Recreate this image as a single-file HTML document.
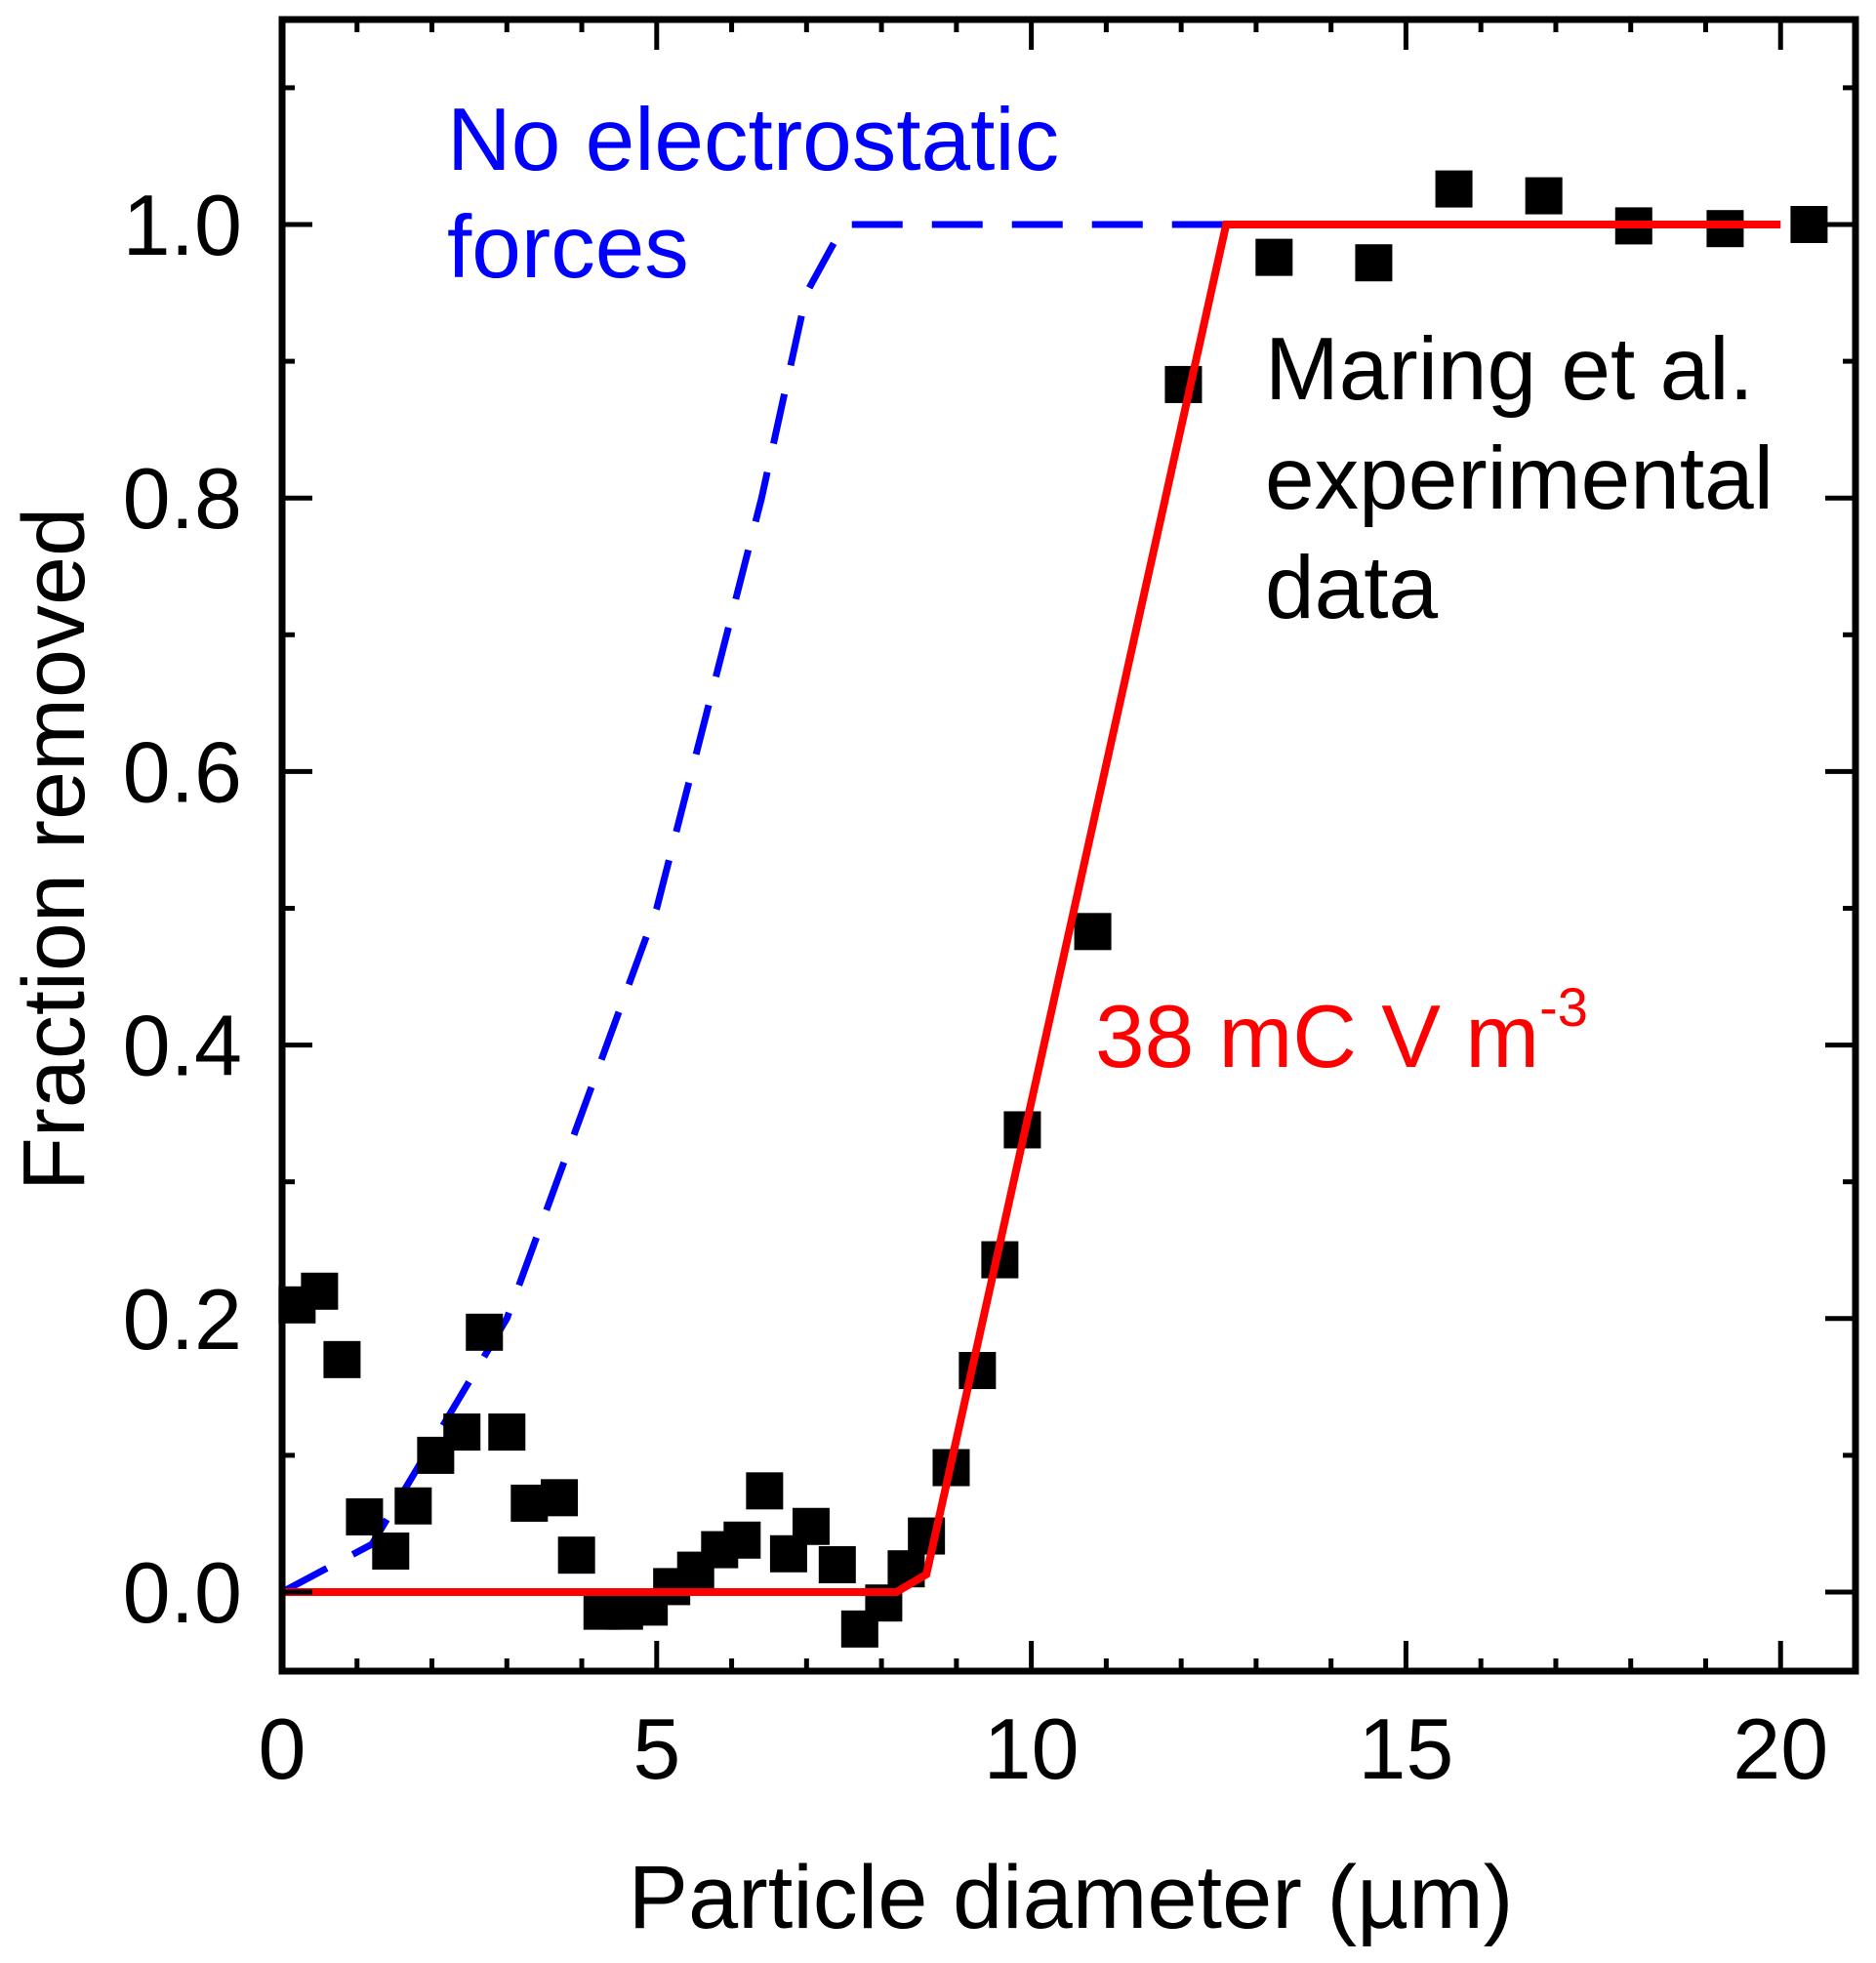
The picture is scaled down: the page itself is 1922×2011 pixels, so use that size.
<!DOCTYPE html>
<html><head><meta charset="utf-8"><style>
html,body{margin:0;padding:0;background:#fff}
svg{display:block;font-family:"Liberation Sans",Arial,sans-serif}
</style></head><body>
<svg id="chart" width="1922" height="2011" viewBox="0 0 1922 2011">
<g id="marks"></g>
<g id="axes"></g>
<text x="458" y="174" font-size="91" fill="#0000ff">No electrostatic</text>
<text x="458" y="284" font-size="91" fill="#0000ff">forces</text>
<text x="1296" y="409" font-size="91" fill="#000">Maring et al.</text>
<text x="1296" y="521" font-size="91" fill="#000">experimental</text>
<text x="1296" y="633" font-size="91" fill="#000">data</text>
<text x="1122" y="1093" font-size="91" fill="#ff0000">38 mC V m<tspan font-size="56" dy="-42">-3</tspan></text>
<text x="1097" y="1975" font-size="92" text-anchor="middle" fill="#000">Particle diameter (µm)</text>
<text transform="translate(86,870) rotate(-90)" font-size="90" text-anchor="middle" fill="#000">Fraction removed</text>
</svg>
<script>
const xs=[0.2,0.5,0.8,1.1,1.45,1.75,2.05,2.4,2.7,3.0,3.3,3.7,3.93,4.27,4.57,4.9,5.2,5.52,5.84,6.14,6.44,6.76,7.06,7.41,7.71,8.03,8.33,8.6,8.93,9.28,9.58,9.88,10.82,12.03,13.24,14.57,15.64,16.84,18.04,19.26,20.38];
const ys=[0.21,0.22,0.17,0.055,0.03,0.063,0.10,0.117,0.19,0.117,0.065,0.069,0.027,-0.014,-0.014,-0.011,0.004,0.016,0.031,0.038,0.074,0.028,0.048,0.020,-0.027,-0.008,0.017,0.041,0.091,0.162,0.243,0.338,0.483,0.883,0.976,0.972,1.026,1.021,0.999,0.997,1.0];
const redX=[0,8.2,8.6,12.6,20];
const redY=[0,0,0.013,1.0,1.0];
const blueX=[0,1.2,3.0,5.0,6.4,7.0,7.5,12.6];
const blueY=[0,0.035,0.2,0.5,0.8,0.95,1.0,1.0];
const xTicks=[0,5,10,15,20];
const yTicks=[0,0.2,0.4,0.6,0.8,1.0];
const xTickLabels=["0","5","10","15","20"];
const yTickLabels=["0.0","0.2","0.4","0.6","0.8","1.0"];

const L=289,R=1901,T=20,B=1712;
const xMin=0,xMax=21;
const X=v=>L+(v-xMin)/(xMax-xMin)*(R-L);
const Y=v=>1631-(v)*1401;
const NS="http://www.w3.org/2000/svg";
const marks=document.getElementById('marks'),axes=document.getElementById('axes');
function mk(tag,attrs,parent){const e=document.createElementNS(NS,tag);for(const k in attrs)e.setAttribute(k,attrs[k]);parent.appendChild(e);return e;}

let bp=blueX.map((x,i)=>X(x)+","+Y(blueY[i])).join(" ");
const bl=mk('polyline',{points:bp,fill:"none",stroke:"#0000ff","stroke-width":7,"stroke-dasharray":"52 30"},marks);



xs.forEach((x,i)=>{
 const r=mk('rect',{x:X(x)-19,y:Y(ys[i])-19,width:38,height:38,fill:"#000"},marks);
 
 
});

let rp=redX.map((x,i)=>X(x)+","+Y(redY[i])).join(" ");
const rl=mk('polyline',{points:rp,fill:"none",stroke:"#ff0000","stroke-width":8},marks);



const frame=mk('rect',{x:L,y:T,width:R-L,height:B-T,fill:"none",stroke:"#000","stroke-width":7},axes);



for(let v=0;v<=21;v++){
 const len=(v%5===0)?31:13;
 const x=X(v);
 mk('line',{x1:x,y1:B,x2:x,y2:B-len,stroke:"#000","stroke-width":5},axes);
 mk('line',{x1:x,y1:T,x2:x,y2:T+len,stroke:"#000","stroke-width":5},axes);
}
for(let k=0;k<=11;k++){
 const v=k/10;
 const len=(k%2===0)?31:13;
 const y=Y(v);
 mk('line',{x1:L,y1:y,x2:L+len,y2:y,stroke:"#000","stroke-width":5},axes);
 mk('line',{x1:R,y1:y,x2:R-len,y2:y,stroke:"#000","stroke-width":5},axes);
}
xTicks.forEach((v,i)=>{
 const t=mk('text',{x:X(v),y:1822,"font-size":88,"text-anchor":"middle",fill:"#000"},axes);
 t.textContent=xTickLabels[i];
 
 
});
yTicks.forEach((v,i)=>{
 const t=mk('text',{x:248,y:Y(v)+31,"font-size":88,"text-anchor":"end",fill:"#000"},axes);
 t.textContent=yTickLabels[i];
 
 
});
</script>
</body></html>
